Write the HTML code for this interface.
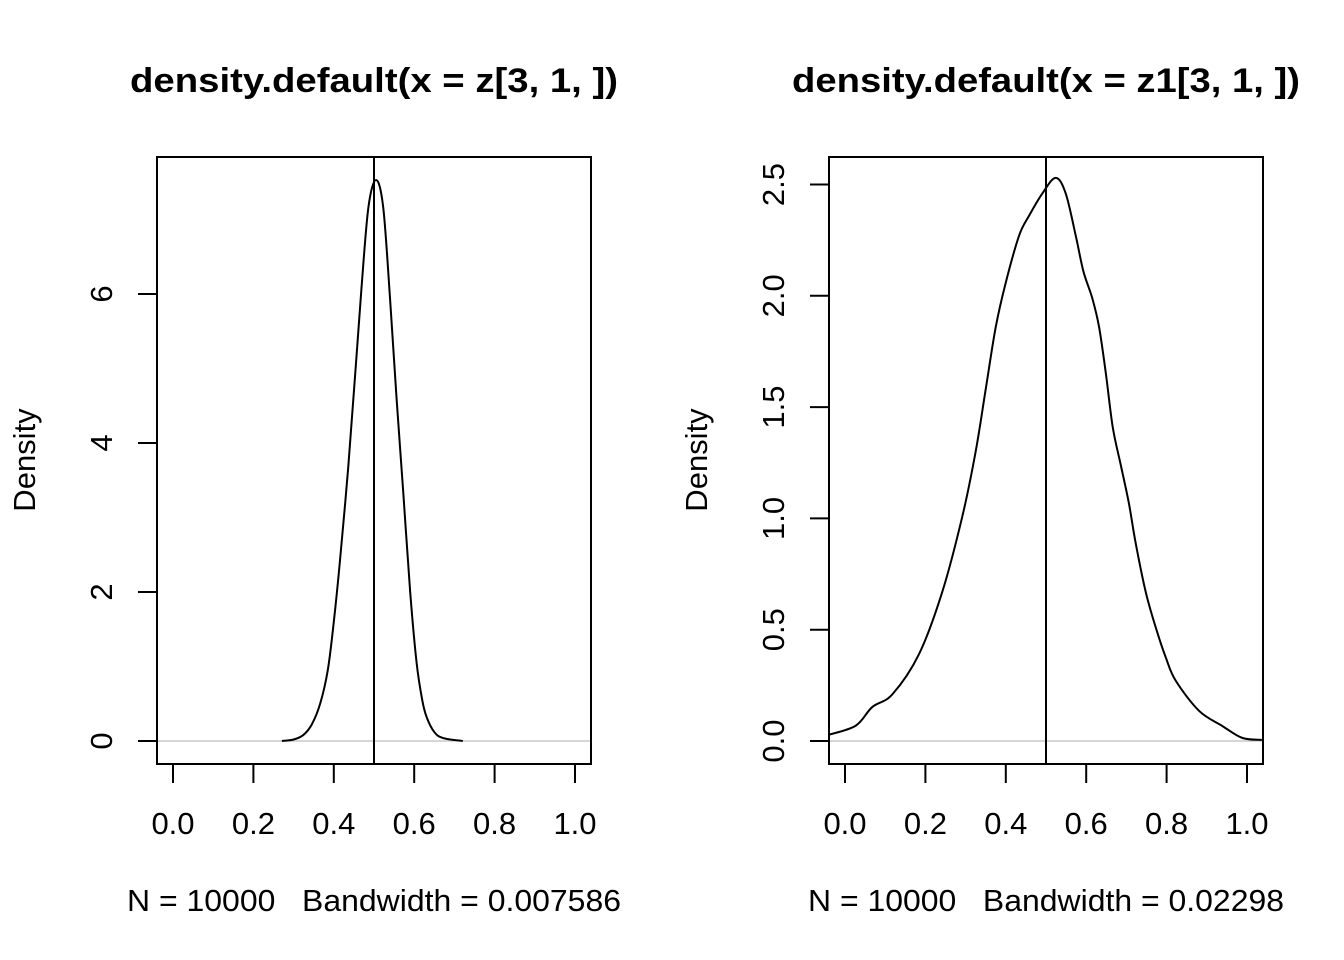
<!DOCTYPE html>
<html><head><meta charset="utf-8"><style>
html,body{margin:0;padding:0;background:#fff;}
svg{display:block;font-family:"Liberation Sans",Arial,sans-serif;}
</style></head><body>
<svg id="chart" width="1344" height="960" viewBox="0 0 1344 960" xmlns="http://www.w3.org/2000/svg"></svg>
<script>
// Left panel data
const leftX = [0.271,0.300,0.324,0.345,0.366,0.385,0.400,0.415,0.436,0.453,0.469,0.486,0.505,0.523,0.540,0.556,0.573,0.590,0.606,0.620,0.631,0.650,0.672,0.721];
const leftY = [0,0.02,0.08,0.22,0.50,0.95,1.60,2.40,3.68,4.91,6.09,7.16,7.53,7.16,5.93,4.61,3.32,2.00,1.05,0.55,0.32,0.12,0.04,0];
const leftXTicks = [0,0.2,0.4,0.6,0.8,1.0];
const leftXTickLabels = ["0.0","0.2","0.4","0.6","0.8","1.0"];
const leftYTicks = [0,2,4,6];
const leftYTickLabels = ["0","2","4","6"];
// Right panel data
const rightX = [-0.040,0.027,0.068,0.118,0.184,0.242,0.292,0.325,0.350,0.375,0.400,0.433,0.458,0.491,0.524,0.549,0.574,0.593,0.615,0.632,0.649,0.666,0.686,0.706,0.723,0.748,0.773,0.798,0.823,0.881,0.939,0.988,1.037];
const rightY = [0.028,0.069,0.153,0.21,0.39,0.67,1.01,1.30,1.58,1.86,2.06,2.27,2.36,2.46,2.53,2.46,2.27,2.11,1.99,1.86,1.65,1.41,1.24,1.07,0.89,0.67,0.51,0.375,0.27,0.135,0.067,0.014,0.005];
const rightXTicks = [0,0.2,0.4,0.6,0.8,1.0];
const rightXTickLabels = ["0.0","0.2","0.4","0.6","0.8","1.0"];
const rightYTicks = [0,0.5,1.0,1.5,2.0,2.5];
const rightYTickLabels = ["0.0","0.5","1.0","1.5","2.0","2.5"];

const NS = "http://www.w3.org/2000/svg";
const svg = document.getElementById('chart');
function mk(tag, attrs, parent, text){
  const e = document.createElementNS(NS, tag);
  for (const k in attrs) e.setAttribute(k, attrs[k]);
  if (text !== undefined) e.textContent = text;
  (parent||svg).appendChild(e);
  return e;
}
function smoothPath(pts){
  let d = "M" + pts[0][0].toFixed(2) + "," + pts[0][1].toFixed(2);
  for (let i=0;i<pts.length-1;i++){
    const p0 = pts[Math.max(0,i-1)], p1=pts[i], p2=pts[i+1], p3=pts[Math.min(pts.length-1,i+2)];
    const c1x = p1[0]+(p2[0]-p0[0])/6, c1y = p1[1]+(p2[1]-p0[1])/6;
    const c2x = p2[0]-(p3[0]-p1[0])/6, c2y = p2[1]-(p3[1]-p1[1])/6;
    d += " C"+c1x.toFixed(2)+","+c1y.toFixed(2)+" "+c2x.toFixed(2)+","+c2y.toFixed(2)+" "+p2[0].toFixed(2)+","+p2[1].toFixed(2);
  }
  return d;
}
function panel(cfg){
  const g = mk('g', {});
  
  
  const sx = v => cfg.x0 + v*(cfg.x1-cfg.x0);
  const sy = v => cfg.y0 - v*cfg.ppu;
  const t = mk('text', {x:cfg.cx, y:92, 'text-anchor':'middle', 'font-size':34, 'font-weight':'bold', textLength:cfg.titleLen, lengthAdjust:'spacingAndGlyphs'}, g, cfg.title);
  
  
  const zl = mk('line', {x1:cfg.bl, x2:cfg.br, y1:sy(0), y2:sy(0), stroke:'#bebebe', 'stroke-width':1.3}, g);
  
  
  const pts = cfg.xs.map((v,i)=>[sx(v), sy(cfg.ys[i])]);
  const c = mk('path', {d:smoothPath(pts), fill:'none', stroke:'#000', 'stroke-width':2}, g);
  
  
  const vl = mk('line', {x1:sx(0.5), x2:sx(0.5), y1:157, y2:764, stroke:'#000', 'stroke-width':2}, g);
  
  
  const b = mk('rect', {x:cfg.bl, y:157, width:cfg.br-cfg.bl, height:607, fill:'none', stroke:'#000', 'stroke-width':2}, g);
  
  
  cfg.xt.forEach((v,i)=>{
    const l = mk('line', {x1:sx(v), x2:sx(v), y1:764, y2:783, stroke:'#000', 'stroke-width':2}, g);
    
    
    const tx = mk('text', {x:sx(v), y:834, 'text-anchor':'middle', 'font-size':31}, g, cfg.xtl[i]);
    
    
  });
  cfg.yt.forEach((v,i)=>{
    const l = mk('line', {x1:cfg.bl-19, x2:cfg.bl, y1:sy(v), y2:sy(v), stroke:'#000', 'stroke-width':2}, g);
    
    
    const lx = cfg.bl-45;
    const tx = mk('text', {x:lx, y:sy(v), 'text-anchor':'middle', 'font-size':31, transform:'rotate(-90 '+lx+' '+sy(v)+')'}, g, cfg.ytl[i]);
    
    
  });
  const yx = cfg.bl-122;
  const yt = mk('text', {x:yx, y:460, 'text-anchor':'middle', 'font-size':31, transform:'rotate(-90 '+yx+' 460)'}, g, 'Density');
  
  
  const st = mk('text', {x:cfg.cx, y:911, 'text-anchor':'middle', 'font-size':31, textLength:cfg.subLen, lengthAdjust:'spacingAndGlyphs'}, g, cfg.sub);
  
  
}
panel({name:'left-panel', bl:157, br:591, cx:374, x0:173, x1:575, y0:741, ppu:74.5,
  xs:leftX, ys:leftY, xt:leftXTicks, xtl:leftXTickLabels, yt:leftYTicks, ytl:leftYTickLabels,
  title:'density.default(x = z[3, 1, ])', titleLen:488, sub:'N = 10000\u00a0\u00a0\u00a0Bandwidth = 0.007586', subLen:494});
panel({name:'right-panel', bl:829, br:1263, cx:1046, x0:845, x1:1247, y0:741, ppu:222.6,
  xs:rightX, ys:rightY, xt:rightXTicks, xtl:rightXTickLabels, yt:rightYTicks, ytl:rightYTickLabels,
  title:'density.default(x = z1[3, 1, ])', titleLen:508, sub:'N = 10000\u00a0\u00a0\u00a0Bandwidth = 0.02298', subLen:476});
</script>
</body></html>
